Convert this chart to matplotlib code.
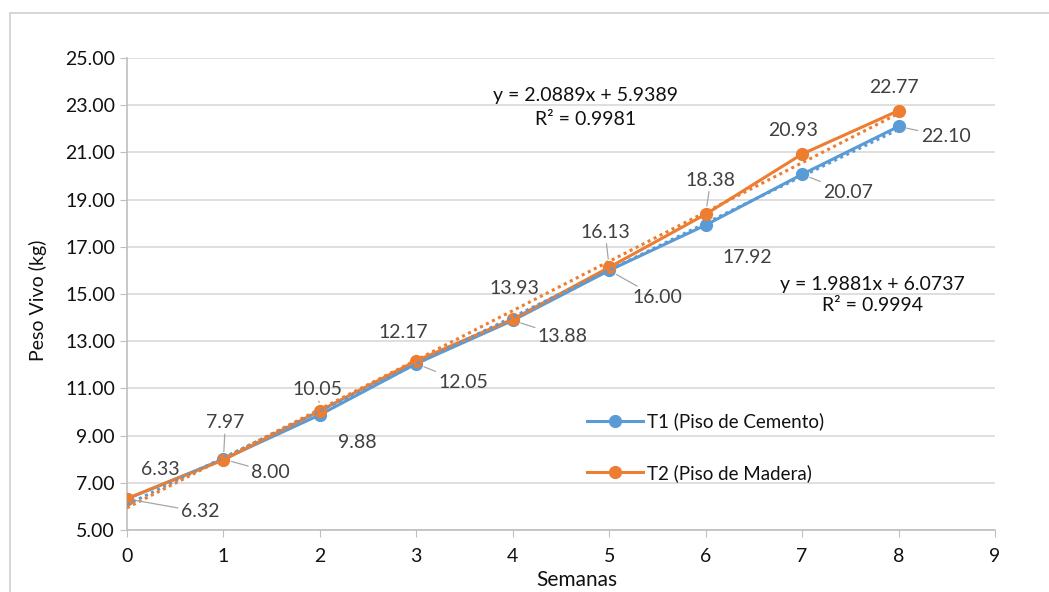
import matplotlib.pyplot as plt
from matplotlib.patches import Rectangle

plt.rcParams['font.family'] = ['Lato', 'DejaVu Sans']

semanas = [0, 1, 2, 3, 4, 5, 6, 7, 8]
t1 = [6.32, 8.00, 9.88, 12.05, 13.88, 16.00, 17.92, 20.07, 22.10]
t2 = [6.33, 7.97, 10.05, 12.17, 13.93, 16.13, 18.38, 20.93, 22.77]

t1_label = "T1 (Piso de Cemento)"
t2_label = "T2 (Piso de Madera)"

# linear trend coefficients as printed on the chart
t1_slope, t1_icpt, t1_r2 = 1.9881, 6.0737, 0.9994
t2_slope, t2_icpt, t2_r2 = 2.0889, 5.9389, 0.9981

blue = '#5B9BD5'
orange = '#ED7D31'
txt = '#404040'

# label offsets in pixels from each point
t1_off = [(73, -13), (47, -13), (37, -28), (47, -19), (50, -16),
          (48, -27), (42, -32), (46, -18), (47, -10)]
t2_off = [(33, 29), (2, 37), (-2, 21), (-13, 28), (2, 31),
          (-4, 35), (5, 34), (-9, 24), (-5, 23)]
t1_lead = [True, True, False, True, True, True, False, True, True]
t2_lead = [False, True, True, False, False, True, True, False, False]

fig = plt.figure(figsize=(10.49, 5.92), dpi=100)
ax = fig.add_axes([0.121, 0.1047, 0.8275, 0.7973])

fig.patches.append(Rectangle((10 / 1049, -0.1), 1.2, 1 - 13 / 592 + 0.1,
                             transform=fig.transFigure, fill=False,
                             edgecolor='#d0d0d0', lw=1.2))

xs = [semanas[0], semanas[-1]]
ax.plot(xs, [t1_icpt + t1_slope * x for x in xs], color=blue,
        ls=(0, (1, 1.2)), lw=2.2, zorder=4)
ax.plot(xs, [t2_icpt + t2_slope * x for x in xs], color=orange,
        ls=(0, (1, 1.2)), lw=2.2, zorder=4)

ax.plot(semanas, t1, color=blue, lw=2.2, marker='o', ms=8.5, label=t1_label, zorder=3)
ax.plot(semanas, t2, color=orange, lw=2.2, marker='o', ms=8.5, label=t2_label, zorder=3)

for vals, offs, leads in [(t1, t1_off, t1_lead), (t2, t2_off, t2_lead)]:
    for x, v, off, lead in zip(semanas, vals, offs, leads):
        ap = None
        if lead:
            ap = dict(arrowstyle='-', color='#a6a6a6', lw=0.9, shrinkA=0, shrinkB=6)
        ax.annotate(f"{v:.2f}", xy=(x, v), xytext=off, textcoords='offset pixels',
                    ha='center', va='center', fontsize=14, color=txt, arrowprops=ap,
                    zorder=6)

ax.text(4.75, 22.9, f"y = {t2_slope:.4f}x + {t2_icpt:.4f}\nR² = {t2_r2:.4f}",
        ha='center', va='center', fontsize=14, color='#111111', linespacing=1.45)
ax.text(7.73, 14.96, f"y = {t1_slope:.4f}x + {t1_icpt:.4f}\nR² = {t1_r2:.4f}",
        ha='center', va='center', fontsize=14, color='#111111', linespacing=1.3)

ax.set_xlim(0, 9)
ax.set_ylim(5, 25)
ax.set_xticks(range(0, 10))
ax.set_yticks(range(5, 26, 2))
ax.set_yticklabels([f"{v:.2f}" for v in range(5, 26, 2)])
ax.tick_params(labelsize=14, colors='#bfbfbf', labelcolor='#111111', length=5)
ax.tick_params(axis='x', pad=8)
ax.grid(axis='y', color='#d9d9d9', lw=1.2)
ax.set_axisbelow(True)
for s in ['top', 'right']:
    ax.spines[s].set_visible(False)
for s in ['left', 'bottom']:
    ax.spines[s].set_color('#bfbfbf')
    ax.spines[s].set_linewidth(1.2)

fig.text(38 / 1049, 1 - 300 / 592, "Peso Vivo (kg)", rotation=90,
         ha='center', va='center', fontsize=14, color='#111111')
fig.text(577 / 1049, 1 - 580 / 592, "Semanas", ha='center', va='center',
         fontsize=15, color='#111111')

ax.legend(loc='center left', bbox_to_anchor=(0.51, 0.176), frameon=False,
          fontsize=13.5, handlelength=3, labelspacing=1.8, handletextpad=0.2,
          labelcolor='#111111')

plt.savefig("out.png", dpi=100)
